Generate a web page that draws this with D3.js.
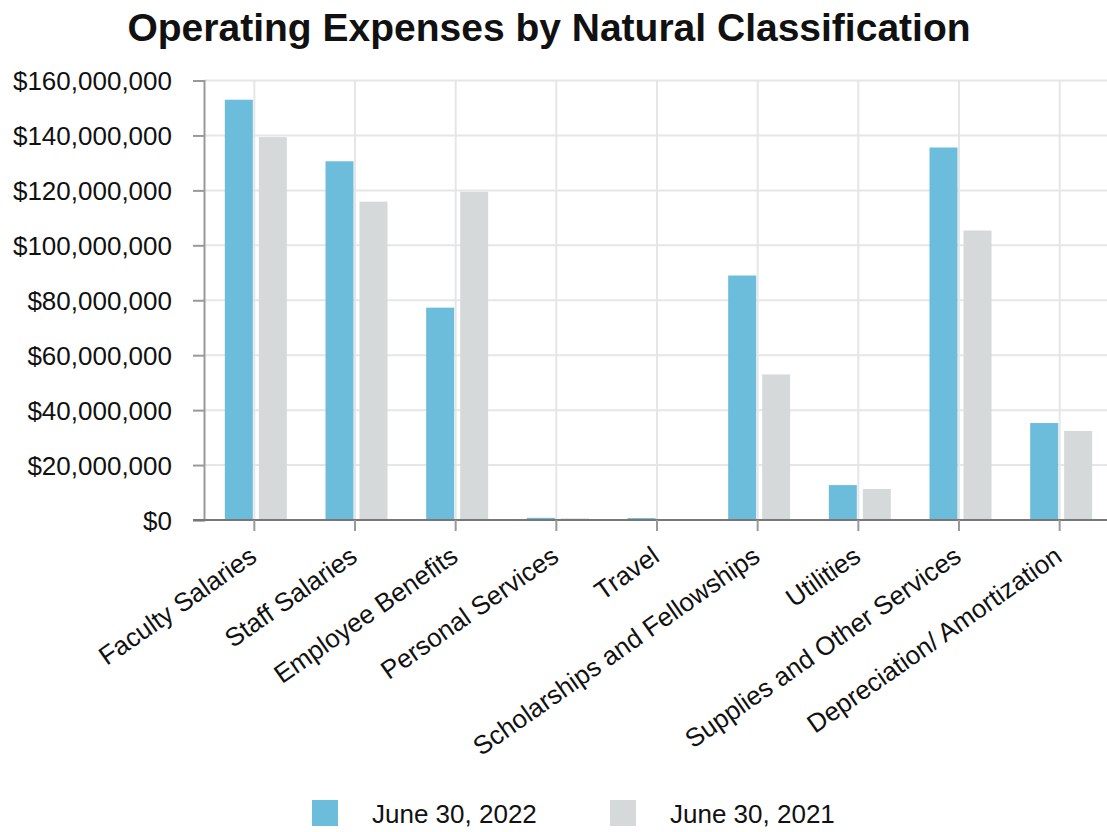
<!DOCTYPE html>
<html>
<head>
<meta charset="utf-8">
<script src="https://cdn.jsdelivr.net/npm/d3@7"></script>
<style>
  html, body { margin: 0; padding: 0; background: #fff; }
  svg text { font-family: "Liberation Sans", Arial, Helvetica, sans-serif; fill: #111; }
</style>
</head>
<body>
<svg id="chart" width="1107" height="832"></svg>
<script>
const categories = ["Faculty Salaries", "Staff Salaries", "Employee Benefits", "Personal Services", "Travel",
  "Scholarships and Fellowships", "Utilities", "Supplies and Other Services", "Depreciation/ Amortization"];
const seriesNames = ["June 30, 2022", "June 30, 2021"];
const values2022 = [153000000, 130600000, 77300000, 800000, 700000, 89000000, 12700000, 135600000, 35300000];
const values2021 = [139400000, 115900000, 119500000, 600000, 0, 53000000, 11300000, 105400000, 32400000];
const yTicks = [0, 20000000, 40000000, 60000000, 80000000, 100000000, 120000000, 140000000, 160000000];
const colors = ["#6CBCDB", "#D6D9DA"];

(function () {
const seriesValues = [values2022, values2021];
const svg = d3.select("#chart");
const mLeft = 204, mRight = 1110, mTop = 80.5, mBottom = 520;

const x0 = d3.scaleBand().domain(categories).range([mLeft, mRight]);
const x1 = d3.scaleBand().domain(seriesNames).range([0, 62]).paddingInner(0.1765);
const y = d3.scaleLinear().domain([0, 160000000]).range([mBottom, mTop]);

// title
svg.append("text").attr("x", 549).attr("y", 41).attr("text-anchor", "middle")
  .style("font-size", "39px").style("font-weight", "bold").attr("fill", "#000")
  .text("Operating Expenses by Natural Classification");

// gridlines
svg.append("g").selectAll("line").data(yTicks.slice(1)).join("line")
  .attr("x1", mLeft).attr("x2", 1107).attr("y1", d => y(d)).attr("y2", d => y(d))
  .attr("stroke", "#e6e6e6").attr("stroke-width", 2);
svg.append("g").selectAll("line").data(categories).join("line")
  .attr("x1", d => x0(d) + x0.bandwidth() / 2).attr("x2", d => x0(d) + x0.bandwidth() / 2)
  .attr("y1", mTop).attr("y2", mBottom)
  .attr("stroke", "#e6e6e6").attr("stroke-width", 2);

// bars
const groups = svg.append("g").selectAll("g").data(categories).join("g")
  .attr("transform", d => `translate(${x0(d) + x0.bandwidth() / 2 - 29.5},0)`);
groups.selectAll("rect").data((d, i) => seriesNames.map((s, j) => ({ s, v: seriesValues[j][i], j })))
  .join("rect")
  .attr("x", d => x1(d.s)).attr("width", x1.bandwidth())
  .attr("y", d => y(d.v)).attr("height", d => mBottom - y(d.v))
  .attr("fill", d => colors[d.j]);

// y axis
const yAxis = d3.axisLeft(y).tickValues(yTicks).tickSize(11).tickPadding(21)
  .tickFormat(d => "$" + d3.format(",")(d));
const gy = svg.append("g").attr("transform", `translate(${mLeft},0)`).call(yAxis);
gy.select(".domain").attr("stroke", "#999").attr("stroke-width", 2);
gy.selectAll(".tick line").attr("stroke", "#999").attr("stroke-width", 2);
gy.selectAll(".tick text").style("font-size", "26px").attr("fill", "#111").attr("dy", "0.35em");

// x axis
const xAxis = d3.axisBottom(x0).tickSize(11).tickSizeOuter(0).tickPadding(0);
const gx = svg.append("g").attr("transform", `translate(0,${mBottom})`).call(xAxis);
gx.select(".domain").attr("stroke", "#777").attr("stroke-width", 2).attr("d", `M${mLeft - 11},0H1107`);
gx.selectAll(".tick line").attr("stroke", "#999").attr("stroke-width", 2);
gx.selectAll(".tick text").style("font-size", "26px").attr("fill", "#111")
  .attr("text-anchor", "end").attr("dy", null).attr("y", 0)
  .attr("transform", "translate(4,40) rotate(-35)");

// legend
const legend = svg.append("g");
const legendX = [312, 610];
seriesNames.forEach((s, i) => {
  legend.append("rect").attr("x", legendX[i]).attr("y", 800).attr("width", 26).attr("height", 26).attr("fill", colors[i]);
  legend.append("text").attr("x", legendX[i] + 60).attr("y", 823).style("font-size", "26px").text(s);
});
})();
</script>
</body>
</html>
